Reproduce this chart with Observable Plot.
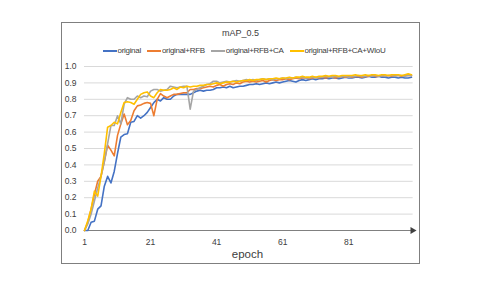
<!DOCTYPE html>
<html>
<head>
<meta charset="utf-8">
<script src="https://cdn.jsdelivr.net/npm/d3@7"></script>
<script src="https://cdn.jsdelivr.net/npm/@observablehq/plot@0.6"></script>
<style>
  html, body { margin: 0; padding: 0; background: #fff; }
  body { width: 497px; height: 282px; position: relative; overflow: hidden; font-family: "Liberation Sans", Arial, sans-serif; }
  #frame { position: absolute; left: 61px; top: 22px; width: 357px; height: 240px; border: 1px solid #7f7f7f; }
  #title { position: absolute; left: 61px; width: 359px; top: 28px; text-align: center; font-size: 9px; color: #404040; }
  #legend { position: absolute; left: 61px; width: 366px; top: 46px; display: flex; justify-content: center; gap: 6px; font-size: 8px; letter-spacing: -0.3px; color: #404040; }
  .item { display: flex; align-items: center; }
  .sw { display: inline-block; width: 14px; height: 2px; margin-right: 1px; }
  #chart { position: absolute; left: 61px; top: 58px; }
  #xlabel { position: absolute; left: 61px; width: 373px; top: 248px; text-align: center; font-size: 11.5px; color: #404040; }
</style>
</head>
<body>
<div id="frame"></div>
<div id="title">mAP_0.5</div>
<div id="legend"></div>
<div id="chart"></div>
<div id="xlabel">epoch</div>
<script>
const seriesNames = ["original", "original+RFB", "original+RFB+CA", "original+RFB+CA+WIoU"];
const seriesColors = ["#4472C4", "#ED7D31", "#A5A5A5", "#FFC000"];
const xTicks = [1, 21, 41, 61, 81];
const yTicks = [0, 0.1, 0.2, 0.3, 0.4, 0.5, 0.6, 0.7, 0.8, 0.9, 1.0];

const original = [
  0, 0, 0.05, 0.057, 0.13, 0.15, 0.27, 0.33, 0.29, 0.36,
  0.47, 0.57, 0.585, 0.59, 0.66, 0.665, 0.70, 0.685, 0.70, 0.72,
  0.75, 0.78, 0.80, 0.79, 0.81, 0.80, 0.80, 0.82, 0.83, 0.83,
  0.83, 0.83, 0.83, 0.84, 0.85, 0.855, 0.85, 0.855, 0.855, 0.86,
  0.87, 0.87, 0.875, 0.87, 0.88, 0.87, 0.875, 0.88, 0.88, 0.885,
  0.89, 0.89, 0.895, 0.89, 0.895, 0.90, 0.895, 0.90, 0.905, 0.90,
  0.905, 0.91, 0.915, 0.91, 0.905, 0.915, 0.92, 0.915, 0.92, 0.925,
  0.92, 0.925, 0.925, 0.93, 0.925, 0.93, 0.93, 0.925, 0.93, 0.935,
  0.93, 0.93, 0.935, 0.935, 0.93, 0.935, 0.94, 0.935, 0.935, 0.94,
  0.935, 0.935, 0.93, 0.935, 0.935, 0.93, 0.935, 0.93, 0.93, 0.935
];
const originalRFB = [
  0, 0.05, 0.13, 0.22, 0.30, 0.33, 0.42, 0.52, 0.49, 0.455,
  0.58, 0.65, 0.71, 0.645, 0.67, 0.73, 0.76, 0.765, 0.775, 0.78,
  0.775, 0.70, 0.80, 0.835, 0.82, 0.81, 0.82, 0.83, 0.83, 0.835,
  0.84, 0.84, 0.86, 0.86, 0.865, 0.865, 0.87, 0.875, 0.88, 0.875,
  0.885, 0.89, 0.88, 0.89, 0.895, 0.89, 0.90, 0.895, 0.905, 0.91,
  0.905, 0.91, 0.905, 0.91, 0.915, 0.905, 0.915, 0.92, 0.915, 0.92,
  0.92, 0.925, 0.92, 0.925, 0.93, 0.925, 0.93, 0.93, 0.925, 0.93,
  0.935, 0.93, 0.935, 0.93, 0.935, 0.935, 0.93, 0.935, 0.94, 0.935,
  0.94, 0.935, 0.94, 0.94, 0.935, 0.94, 0.94, 0.945, 0.94, 0.94,
  0.945, 0.94, 0.945, 0.94, 0.945, 0.945, 0.94, 0.945, 0.945, 0.945
];
const originalRFBCA = [
  0, 0.04, 0.10, 0.18, 0.26, 0.33, 0.42, 0.53, 0.64, 0.64,
  0.70, 0.65, 0.77, 0.81, 0.80, 0.80, 0.82, 0.81, 0.82, 0.815,
  0.85, 0.86, 0.86, 0.85, 0.855, 0.86, 0.88, 0.875, 0.87, 0.875,
  0.88, 0.88, 0.74, 0.85, 0.86, 0.87, 0.88, 0.89, 0.895, 0.91,
  0.91, 0.90, 0.905, 0.91, 0.905, 0.91, 0.915, 0.91, 0.915, 0.92,
  0.915, 0.92, 0.915, 0.92, 0.925, 0.92, 0.925, 0.92, 0.925, 0.925,
  0.93, 0.925, 0.93, 0.93, 0.935, 0.93, 0.935, 0.93, 0.93, 0.935,
  0.93, 0.935, 0.935, 0.94, 0.935, 0.935, 0.94, 0.935, 0.94, 0.94,
  0.935, 0.94, 0.94, 0.945, 0.94, 0.94, 0.945, 0.94, 0.945, 0.94,
  0.945, 0.94, 0.945, 0.945, 0.94, 0.945, 0.945, 0.94, 0.945, 0.945
];
const originalRFBCAWIoU = [
  0, 0.06, 0.13, 0.24, 0.21, 0.33, 0.47, 0.63, 0.64, 0.66,
  0.65, 0.72, 0.78, 0.785, 0.78, 0.77, 0.80, 0.83, 0.84, 0.845,
  0.82, 0.81, 0.84, 0.86, 0.855, 0.855, 0.86, 0.87, 0.86, 0.875,
  0.87, 0.88, 0.875, 0.88, 0.88, 0.885, 0.885, 0.89, 0.89, 0.895,
  0.90, 0.895, 0.90, 0.905, 0.905, 0.91, 0.905, 0.91, 0.915, 0.915,
  0.92, 0.915, 0.92, 0.92, 0.925, 0.92, 0.925, 0.925, 0.93, 0.925,
  0.93, 0.93, 0.935, 0.93, 0.935, 0.935, 0.94, 0.935, 0.935, 0.94,
  0.935, 0.94, 0.94, 0.945, 0.94, 0.945, 0.945, 0.94, 0.945, 0.945,
  0.945, 0.945, 0.95, 0.945, 0.945, 0.95, 0.945, 0.95, 0.95, 0.945,
  0.95, 0.95, 0.945, 0.95, 0.95, 0.95, 0.945, 0.95, 0.955, 0.95
];

const allSeries = [original, originalRFB, originalRFBCA, originalRFBCAWIoU];
const rows = [];
allSeries.forEach((vals, s) => vals.forEach((v, i) => rows.push({epoch: i + 1, value: v, series: seriesNames[s]})));

// legend
const legend = document.getElementById("legend");
seriesNames.forEach((n, i) => {
  const it = document.createElement("span");
  it.className = "item";
  it.innerHTML = `<span class="sw" style="background:${seriesColors[i]}"></span>${n}`;
  legend.appendChild(it);
});

const chart = Plot.plot({
  width: 356,
  height: 204,
  marginLeft: 23,
  marginRight: 6,
  marginTop: 8,
  marginBottom: 32,
  style: {fontFamily: "Liberation Sans, Arial, sans-serif", fontSize: "8.5px", color: "#404040", background: "transparent"},
  x: {domain: [1, 100]},
  y: {domain: [0, 1]},
  color: {domain: seriesNames, range: seriesColors},
  marks: [
    Plot.ruleY(yTicks.filter(d => d > 0), {x1: 1, x2: 100.5, stroke: "#d9d9d9", strokeWidth: 1}),
    Plot.axisY({ticks: yTicks, tickSize: 0, tickPadding: 8, tickFormat: ".1f", label: null}),
    Plot.axisX({ticks: xTicks, tickSize: 0, tickPadding: 8, label: null}),
    Plot.ruleY([0], {x1: 1, x2: 100, stroke: "#808080", strokeWidth: 1}),
    Plot.dot([{x: 100, y: 0}], {x: "x", y: "y", symbol: "triangle", rotate: 90, r: 2.6, fill: "#404040", dx: 1}),
    Plot.line(rows, {x: "epoch", y: "value", z: "series", stroke: "series", strokeWidth: 1.6, strokeLinejoin: "round"})
  ]
});
document.getElementById("chart").appendChild(chart);
</script>
</body>
</html>
